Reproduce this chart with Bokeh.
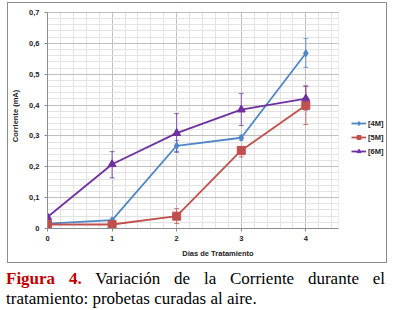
from bokeh.plotting import figure
from bokeh.models import (Legend, LegendItem, Whisker, ColumnDataSource, Div,
                          FixedTicker, Range1d, TeeHead, BoxAnnotation)
from bokeh.layouts import column
from bokeh.embed import file_html
from bokeh.resources import INLINE

# ---- data ----
days = [0, 1, 2, 3, 4]
series_names = ["[4M]", "[5M]", "[6M]"]
m4 = [0.016, 0.027, 0.268, 0.294, 0.568]
m4_low = [0.014, 0.025, 0.250, 0.286, 0.522]
m4_up = [0.018, 0.029, 0.285, 0.302, 0.616]
m5 = [0.013, 0.013, 0.040, 0.253, 0.399]
m5_low = [0.011, 0.011, 0.016, 0.232, 0.337]
m5_up = [0.015, 0.015, 0.065, 0.265, 0.462]
m6 = [0.037, 0.208, 0.309, 0.385, 0.421]
m6_low = [0.035, 0.164, 0.247, 0.334, 0.384]
m6_up = [0.039, 0.249, 0.372, 0.438, 0.461]
y_ticks = [0, 0.1, 0.2, 0.3, 0.4, 0.5, 0.6, 0.7]
y_tick_labels = ["0", "0,1", "0,2", "0,3", "0,4", "0,5", "0,6", "0,7"]
x_ticks = [0, 1, 2, 3, 4]
x_max = 4.5
y_max = 0.7

colors = ["#4f86c6", "#c0504d", "#7030a0"]
markers = ["diamond", "square", "triangle"]
sizes = [7, 8, 8]
font = "Liberation Sans"

p = figure(width=380, height=261, output_backend="svg", toolbar_location=None,
           x_range=Range1d(0, 5.28), y_range=Range1d(0, 0.729),
           min_border_left=35, min_border_right=0, min_border_top=0,
           min_border_bottom=36, background_fill_color="white",
           border_fill_color="white")
p.styles = {"border": "1px solid #8c8c8c"}
p.margin = (2, 0, 0, 7)
p.outline_line_color = None

# grids
for g in (p.xgrid, p.ygrid):
    g.grid_line_color = "#bfbfbf"
    g.grid_line_width = 1
    g.minor_grid_line_color = "#e3e3e3"
    g.minor_grid_line_width = 1

p.xaxis.ticker = FixedTicker(ticks=x_ticks,
                             minor_ticks=[i * 0.2 for i in range(0, 23)] + [x_max])
p.yaxis.ticker = FixedTicker(ticks=y_ticks,
                             minor_ticks=[i * 0.02 for i in range(0, 36)])
p.yaxis.major_label_overrides = {t: l for t, l in zip(y_ticks, y_tick_labels)}
p.xaxis.bounds = (0, x_max)
p.yaxis.bounds = (0, y_max)

for ax in (p.xaxis, p.yaxis):
    ax.axis_line_color = "#8c8c8c"
    ax.major_tick_line_color = "#8c8c8c"
    ax.major_tick_out = 3
    ax.major_tick_in = 0
    ax.minor_tick_line_color = None
    ax.major_label_text_font = font
    ax.major_label_text_font_style = "bold"
    ax.major_label_text_font_size = "7.5px"
    ax.major_label_text_color = "#222222"
    ax.axis_label_text_font = font
    ax.axis_label_text_font_style = "bold"
    ax.axis_label_text_font_size = "7.5px"
    ax.axis_label_text_color = "#222222"
p.xaxis.axis_label = "Días de Tratamiento"
p.yaxis.axis_label = "Corriente (mA)"
p.xaxis.major_label_standoff = 3
p.xaxis.axis_label_standoff = 5
p.yaxis.major_label_standoff = 4
p.yaxis.axis_label_standoff = 6

# white covers outside the plot area (chart area region of the box)
p.add_layout(BoxAnnotation(left=x_max + 0.008, fill_color="white", fill_alpha=1,
                           line_color=None, level="underlay"))
p.add_layout(BoxAnnotation(bottom=y_max + 0.0015, fill_color="white", fill_alpha=1,
                           line_color=None, level="underlay"))

items = []
data = [(m4, m4_low, m4_up), (m5, m5_low, m5_up), (m6, m6_low, m6_up)]
for name, (vals, lo, up), c, mk, sz in zip(series_names, data, colors, markers, sizes):
    src = ColumnDataSource(dict(x=days, y=vals, lower=lo, upper=up))
    w = Whisker(source=src, base="x", lower="lower", upper="upper",
                line_color=c, line_alpha=0.75, line_width=1,
                upper_head=TeeHead(size=5, line_color=c, line_alpha=0.75),
                lower_head=TeeHead(size=5, line_color=c, line_alpha=0.75))
    p.add_layout(w)
    ln = p.line("x", "y", source=src, line_color=c, line_width=1.8)
    sc = p.scatter("x", "y", source=src, marker=mk, size=sz,
                   fill_color=c, line_color=c)
    items.append(LegendItem(label=name, renderers=[ln, sc]))

legend = Legend(items=items, location=(304, 72), border_line_color=None,
                background_fill_alpha=0, label_text_font=font,
                label_text_font_style="bold", label_text_font_size="7.5px",
                label_text_color="#222222", glyph_width=15, glyph_height=10,
                spacing=4, padding=0, margin=0, label_standoff=2)
p.add_layout(legend)

caption = Div(
    text=('<div style="font-family: \'Liberation Serif\', serif; font-size: 17px;'
          ' line-height: 20px; text-align: justify; color: #000; width: 379px;">'
          '<span style="color:#c00000; font-weight:bold;">Figura 4.</span> '
          '<span>Variación de la Corriente durante el tratamiento: probetas curadas al aire.</span>'
          '</div>'),
    width=379, margin=(6, 0, 0, 6))

layout = column(p, caption, spacing=0)
open("out.html", "w").write(file_html(layout, INLINE))
